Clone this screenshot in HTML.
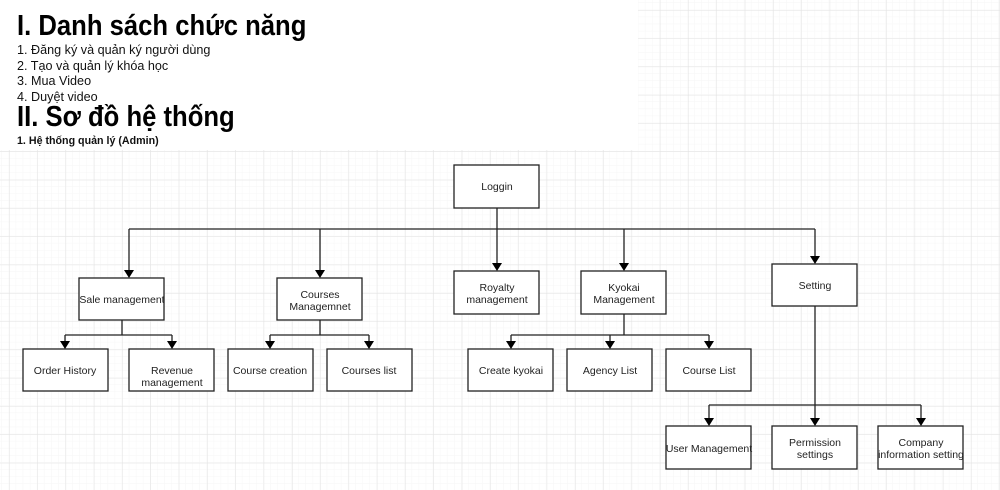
<!DOCTYPE html>
<html><head><meta charset="utf-8"><style>
body{margin:0;width:1000px;height:490px;overflow:hidden;background:#fff;font-family:"Liberation Sans",Arial,sans-serif;}
svg{position:absolute;left:0;top:0}
#t{position:absolute;left:0;top:0;width:638px;height:150px;background:#fff}
.h{position:absolute;left:17px;font-size:28.5px;font-weight:bold;color:#000;white-space:nowrap;transform:scaleX(0.9);transform-origin:0 0}
.l{position:absolute;left:17px;font-size:13px;color:#111;white-space:nowrap;transform:scaleX(0.97);transform-origin:0 0}
</style></head><body>
<svg width="1000" height="490">
<defs>
<pattern id="mn" x="2" y="3" width="7.07" height="7.07" patternUnits="userSpaceOnUse"><path d="M7.07 0V7.07M0 7.07H7.07" stroke="#f6f6f6" stroke-width="1" fill="none"/></pattern>
<pattern id="mj" x="9" y="10" width="28.3" height="28.3" patternUnits="userSpaceOnUse"><path d="M0 0V28.3M0 0H28.3" stroke="#e2e2e2" stroke-width="1" fill="none"/></pattern>
</defs>
<rect width="1000" height="490" fill="url(#mn)"/>
<rect width="1000" height="490" fill="url(#mj)"/>
<g stroke="#222" stroke-width="1.3" fill="none">
<path d="M497 208V229M129 229H815"/>
<path d="M129 229V270M320 229V270M497 229V263M624 229V263M815 229V256"/>
<path d="M122 320V335M65 335H172M65 335V341M172 335V341"/>
<path d="M320 320V335M270 335H369M270 335V341M369 335V341"/>
<path d="M624 314V335M511 335H709M511 335V341M610 335V341M709 335V341"/>
<path d="M815 306V418M709 405H921M709 405V418M921 405V418"/>
</g>
<g fill="#000">
<path d="M124 270h10l-5 8z"/><path d="M315 270h10l-5 8z"/><path d="M492 263h10l-5 8z"/><path d="M619 263h10l-5 8z"/><path d="M810 256h10l-5 8z"/>
<path d="M60 341h10l-5 8z"/><path d="M167 341h10l-5 8z"/><path d="M265 341h10l-5 8z"/><path d="M364 341h10l-5 8z"/>
<path d="M506 341h10l-5 8z"/><path d="M605 341h10l-5 8z"/><path d="M704 341h10l-5 8z"/>
<path d="M704 418h10l-5 8z"/><path d="M810 418h10l-5 8z"/><path d="M916 418h10l-5 8z"/>
</g>
<g stroke="#222" stroke-width="1.3" fill="#fff">
<rect x="454" y="165" width="85" height="43"/>
<rect x="79" y="278" width="85" height="42"/><rect x="277" y="278" width="85" height="42"/>
<rect x="454" y="271" width="85" height="43"/><rect x="581" y="271" width="85" height="43"/>
<rect x="772" y="264" width="85" height="42"/>
<rect x="23" y="349" width="85" height="42"/><rect x="129" y="349" width="85" height="42"/>
<rect x="228" y="349" width="85" height="42"/><rect x="327" y="349" width="85" height="42"/>
<rect x="468" y="349" width="85" height="42"/><rect x="567" y="349" width="85" height="42"/><rect x="666" y="349" width="85" height="42"/>
<rect x="666" y="426" width="85" height="43"/><rect x="772" y="426" width="85" height="43"/><rect x="878" y="426" width="85" height="43"/>
</g>
<g font-family="Liberation Sans, Arial, sans-serif" font-size="10.5" fill="#222" text-anchor="middle">
<text x="497" y="190">Loggin</text>
<text x="122" y="303">Sale management</text>
<text x="320" y="298">Courses</text><text x="320" y="310">Managemnet</text>
<text x="497" y="291">Royalty</text><text x="497" y="303">management</text>
<text x="624" y="291">Kyokai</text><text x="624" y="303">Management</text>
<text x="815" y="289">Setting</text>
<text x="65" y="374">Order History</text>
<text x="172" y="374">Revenue</text><text x="172" y="386">management</text>
<text x="270" y="374">Course creation</text>
<text x="369" y="374">Courses list</text>
<text x="511" y="374">Create kyokai</text>
<text x="610" y="374">Agency List</text>
<text x="709" y="374">Course List</text>
<text x="709" y="452">User Management</text>
<text x="815" y="446">Permission</text><text x="815" y="458">settings</text>
<text x="921" y="446">Company</text><text x="921" y="458">information setting</text>
</g>
</svg>
<div id="t">
<div class="h" style="top:10px">I. Danh sách chức năng</div>
<div class="l" style="top:42px">1. Đăng ký và quản ký người dùng</div>
<div class="l" style="top:58px">2. Tạo và quản lý khóa học</div>
<div class="l" style="top:73px">3. Mua Video</div>
<div class="l" style="top:89px">4. Duyệt video</div>
<div class="h" style="top:101px">II. Sơ đồ hệ thống</div>
<div class="l" style="top:135px;font-size:11px;font-weight:bold">1. Hệ thống quản lý (Admin)</div>
</div>
</body></html>
